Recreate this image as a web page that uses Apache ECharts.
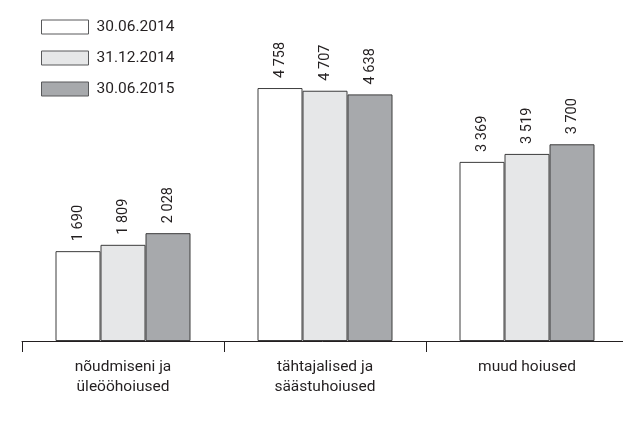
<!DOCTYPE html>
<html>
<head>
<meta charset="utf-8">
<script src="https://cdn.jsdelivr.net/npm/echarts@6/dist/echarts.min.js"></script>
<style>html,body{margin:0;padding:0;background:#fff}#c{width:623px;height:427px}</style>
</head>
<body>
<div id="c"></div>
<script>
var categories = ['nõudmiseni ja\nüleööhoiused', 'tähtajalised ja\nsäästuhoiused', 'muud hoiused'];
var seriesNames = ['30.06.2014', '31.12.2014', '30.06.2015'];
var values2014a = [1690, 4758, 3369];
var values2014b = [1809, 4707, 3519];
var values2015a = [2028, 4638, 3700];

var colors = ['#ffffff', '#e6e7e8', '#a7a9ac'];
var FONT = 'Roboto';

function fmt(p) {
  return String(p.value).replace(/\B(?=(\d{3})+(?!\d))/g, ' ');
}

function mk(name, data, color) {
  return {
    name: name,
    type: 'bar',
    data: data,
    barGap: '0%',
    barWidth: 45,
    itemStyle: { color: color, borderColor: '#3c3c3c', borderWidth: 1 },
    label: {
      show: true,
      position: 'top',
      rotate: 90,
      align: 'left',
      verticalAlign: 'middle',
      distance: 10,
      formatter: fmt,
      fontFamily: FONT,
      fontSize: 14.5,
      color: '#231f20'
    }
  };
}

var chart = echarts.init(document.getElementById('c'), null, { renderer: 'canvas' });
chart.setOption({
  animation: false,
  backgroundColor: '#ffffff',
  legend: {
    orient: 'vertical',
    left: 41,
    top: 19,
    padding: 0,
    itemWidth: 47,
    itemHeight: 14,
    itemGap: 15,
    icon: 'rect',
    textStyle: { fontFamily: FONT, fontSize: 15.5, color: '#231f20', padding: [0, 0, 0, 3] },
    itemStyle: { borderColor: '#58595b', borderWidth: 1 },
    data: seriesNames
  },
  grid: { left: 22, width: 606, top: 22, bottom: 86, outerBoundsMode: 'none' },
  xAxis: {
    type: 'category',
    data: categories,
    axisLine: { lineStyle: { color: '#231f20', width: 1 } },
    axisTick: { show: true, length: 11, lineStyle: { color: '#231f20' } },
    axisLabel: { fontFamily: FONT, fontSize: 15.5, color: '#231f20', lineHeight: 20, margin: 16 }
  },
  yAxis: { type: 'value', min: 0, max: 6000, show: false, splitLine: { show: false } },
  series: [
    mk(seriesNames[0], values2014a, colors[0]),
    mk(seriesNames[1], values2014b, colors[1]),
    mk(seriesNames[2], values2015a, colors[2])
  ]
});
</script>
</body>
</html>
